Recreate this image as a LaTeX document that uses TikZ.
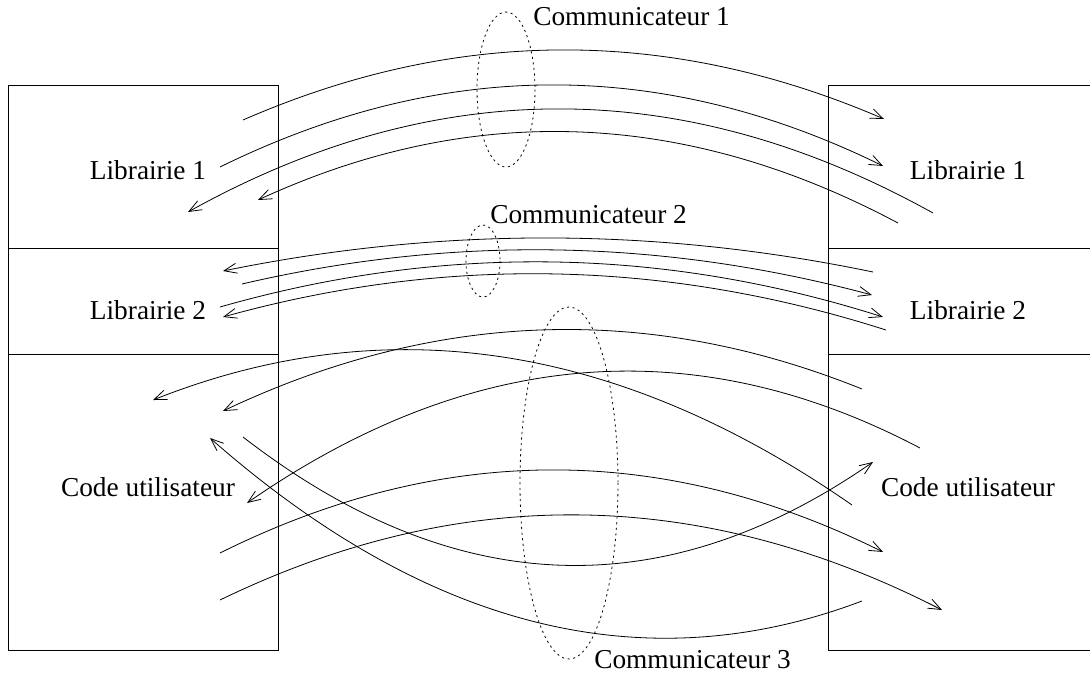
\documentclass[tikz,border=0pt]{standalone}
\usepackage{fontspec}
\setmainfont{Liberation Serif}
\usetikzlibrary{calc,arrows.meta}
\newcommand\qarc[4][]{%
  \coordinate (qc) at ($2*(#3)-0.5*(#2)-0.5*(#4)$);
  \draw[conn,#1] (#2) .. controls ($(#2)!0.6667!(qc)$) and ($(#4)!0.6667!(qc)$) .. (#4);
}
\begin{document}
\begin{tikzpicture}[x=0.75pt,y=-0.75pt,
  box/.style={line width=0.6pt},
  lbl/.style={font=\fontsize{20.5}{24}\selectfont, inner sep=0pt},
  conn/.style={line width=0.6pt},
  tip/.style={-{Straight Barb[length=9.5pt,width=7.5pt,line width=0.6pt]}},
  comm/.style={line width=0.6pt, dash pattern=on 1.6pt off 2.6pt}]
\useasboundingbox (0,0) rectangle (1090,675);
\begin{scope}
\clip (0,0) rectangle (1090,675);
\draw[box] (828,85) rectangle (1120,650);
\draw[box] (828,248) -- (1120,248);
\draw[box] (828,354) -- (1120,354);
\end{scope}
% boxes
\draw[box] (8,85) rectangle (278,650);
\draw[box] (8,248) -- (278,248);
\draw[box] (8,354) -- (278,354);
% labels
\node[lbl] (l1) at (148,170) {Librairie 1};
\node[lbl] (l2) at (148,310) {Librairie 2};
\node[lbl] (l3) at (148,487) {Code utilisateur};
\node[lbl] (r1) at (968,170) {Librairie 1};
\node[lbl] (r2) at (968,310) {Librairie 2};
\node[lbl] (r3) at (968,487) {Code utilisateur};
% communicators
\draw[comm] (506,89.5) ellipse [x radius=29, y radius=77.5];
\draw[comm] (483,261) ellipse [x radius=17, y radius=36];
\draw[comm] (569,483) ellipse [x radius=49, y radius=176];
\node[lbl,anchor=west] (c1) at (533,17) {Communicateur 1};
\node[lbl,anchor=west] (c2) at (490,215) {Communicateur 2};
\node[lbl,anchor=west] (c3) at (594,660) {Communicateur 3};
% group 1
\coordinate (p1s) at (243,120); \coordinate (p1m) at (563,50);  \coordinate (p1e) at (884,119);
\coordinate (p2s) at (220,167); \coordinate (p2m) at (552,85);  \coordinate (p2e) at (883,166);
\coordinate (p3s) at (933,213); \coordinate (p3m) at (560,109); \coordinate (p3e) at (188,212);
\coordinate (p4s) at (898,223); \coordinate (p4m) at (578,132); \coordinate (p4e) at (258,200);
\qarc[tip]{p1s}{p1m}{p1e}
\qarc[tip]{p2s}{p2m}{p2e}
\qarc[tip]{p3s}{p3m}{p3e}
\qarc[tip]{p4s}{p4m}{p4e}
% group 2
\coordinate (q1s) at (873,272); \coordinate (q1m) at (548,238); \coordinate (q1e) at (223,271);
\coordinate (q2s) at (242,284); \coordinate (q2m) at (557,250); \coordinate (q2e) at (872,295);
\coordinate (q3s) at (220,307); \coordinate (q3m) at (552,262); \coordinate (q3e) at (883,317);
\coordinate (q4s) at (886,330); \coordinate (q4m) at (555,274); \coordinate (q4e) at (223,317);
\qarc[tip]{q1s}{q1m}{q1e}
\qarc[tip]{q2s}{q2m}{q2e}
\qarc[tip]{q3s}{q3m}{q3e}
\qarc[tip]{q4s}{q4m}{q4e}
% group 3
\coordinate (as) at (852,505); \coordinate (am) at (502,357); \coordinate (ae) at (153,400);
\coordinate (bs) at (862,389); \coordinate (bm) at (542,330); \coordinate (be) at (223,411);
\coordinate (cs) at (920,448); \coordinate (cm) at (583,373); \coordinate (ce) at (247,503);
\coordinate (ds) at (862,601); \coordinate (dm) at (536,622); \coordinate (de) at (210,438);
\coordinate (es) at (243,437); \coordinate (em) at (558,565); \coordinate (ee) at (873,462);
\coordinate (fs) at (220,553); \coordinate (fm) at (552,470); \coordinate (fe) at (883,552);
\coordinate (gs) at (220,600); \coordinate (gm) at (581,515); \coordinate (ge) at (942,610);
\qarc[tip]{as}{am}{ae}
\qarc[tip]{bs}{bm}{be}
\qarc[tip]{cs}{cm}{ce}
\qarc[tip]{ds}{dm}{de}
\qarc[tip]{es}{em}{ee}
\qarc[tip]{fs}{fm}{fe}
\qarc[tip]{gs}{gm}{ge}
\end{tikzpicture}
\end{document}
